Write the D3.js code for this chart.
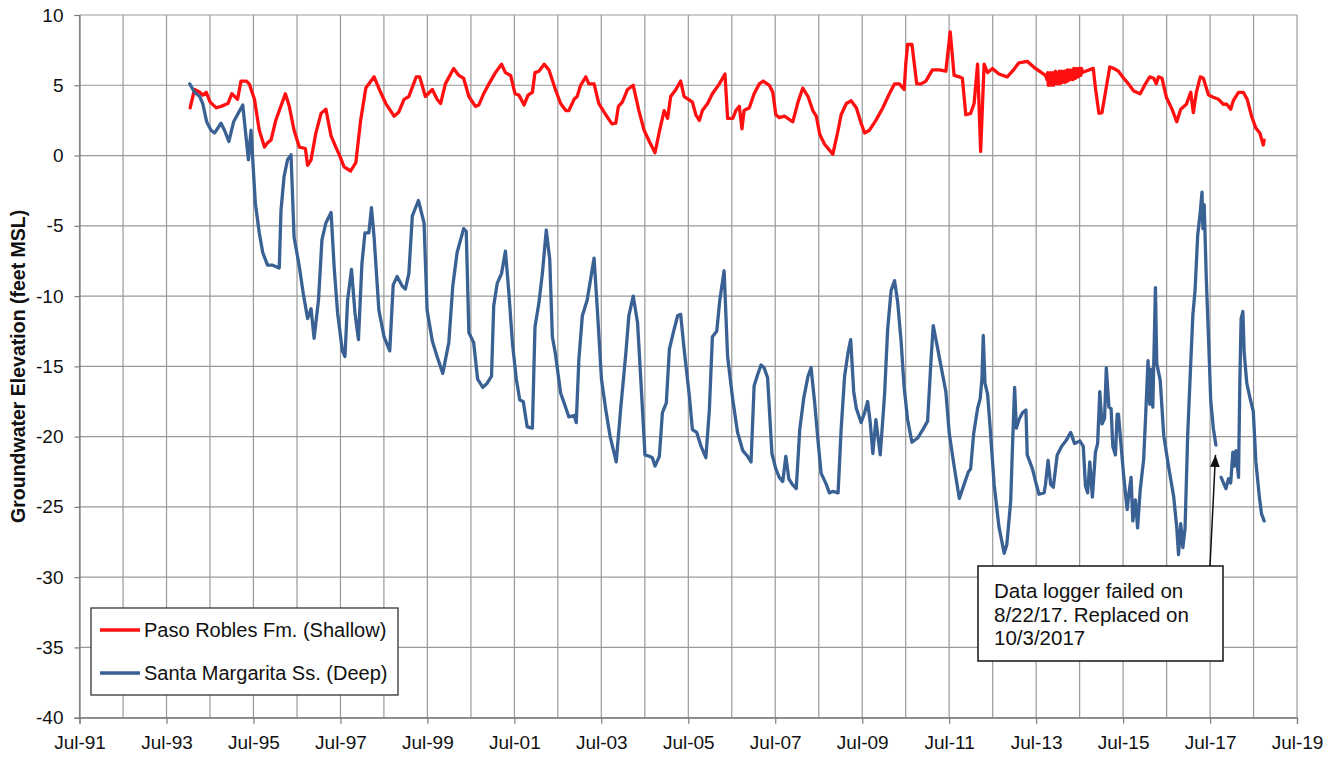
<!DOCTYPE html>
<html>
<head>
<meta charset="utf-8">
<script src="https://cdn.jsdelivr.net/npm/d3@7"></script>
<style>
  html, body { margin: 0; padding: 0; background: #fff; }
  svg { display: block; font-family: "Liberation Sans", Arial, sans-serif; }
</style>
</head>
<body>
<svg id="chart" width="1339" height="757"></svg>
<script>
// ---------------- DATA ----------------
const yTicks = [10, 5, 0, -5, -10, -15, -20, -25, -30, -35, -40];
const xTickLabels = ["Jul-91","Jul-93","Jul-95","Jul-97","Jul-99","Jul-01","Jul-03","Jul-05","Jul-07","Jul-09","Jul-11","Jul-13","Jul-15","Jul-17","Jul-19"];
const seriesNames = ["Paso Robles Fm. (Shallow)", "Santa Margarita Ss. (Deep)"];
const annotationLines = ["Data logger failed on", "8/22/17. Replaced on", "10/3/2017"];

// Paso Robles Fm. (Shallow) : [decimal year, feet MSL]
const shallow = [
[1994.04,3.4],[1994.14,4.7],[1994.26,4.5],[1994.33,4.3],[1994.41,4.5],[1994.50,3.8],[1994.64,3.4],[1994.75,3.5],
[1994.91,3.7],[1995.00,4.4],[1995.13,4.0],[1995.21,5.3],[1995.33,5.3],[1995.40,5.1],[1995.52,4.0],[1995.63,1.8],
[1995.75,0.6],[1995.82,0.9],[1995.90,1.1],[1996.01,2.5],[1996.23,4.4],[1996.32,3.5],[1996.43,1.8],[1996.55,0.6],
[1996.69,0.5],[1996.74,-0.7],[1996.82,-0.3],[1996.93,1.6],[1997.05,3.0],[1997.16,3.3],[1997.28,1.4],[1997.39,0.6],
[1997.47,0.05],[1997.58,-0.8],[1997.73,-1.1],[1997.85,-0.5],[1997.96,2.5],[1998.08,4.8],[1998.27,5.6],[1998.42,4.5],
[1998.54,3.7],[1998.73,2.8],[1998.84,3.1],[1998.96,4.0],[1999.07,4.2],[1999.24,5.6],[1999.32,5.6],[1999.45,4.2],
[1999.61,4.7],[1999.72,4.0],[1999.80,3.7],[1999.91,5.1],[2000.10,6.2],[2000.22,5.7],[2000.33,5.5],[2000.45,4.2],
[2000.60,3.5],[2000.68,3.6],[2000.79,4.4],[2000.91,5.1],[2001.06,5.9],[2001.20,6.5],[2001.29,5.9],[2001.41,5.7],
[2001.51,4.4],[2001.60,4.3],[2001.72,3.6],[2001.81,4.3],[2001.91,4.5],[2001.97,5.9],[2002.06,6.0],[2002.18,6.5],
[2002.29,6.1],[2002.44,4.7],[2002.56,3.7],[2002.68,3.2],[2002.75,3.2],[2002.87,4.0],[2002.94,4.2],[2003.02,5.0],
[2003.14,5.6],[2003.21,5.1],[2003.33,5.1],[2003.44,3.7],[2003.60,2.9],[2003.74,2.25],[2003.83,2.3],[2003.89,3.5],
[2003.98,3.8],[2004.10,4.7],[2004.23,5.0],[2004.36,3.2],[2004.48,1.8],[2004.60,1.0],[2004.73,0.2],[2004.83,1.7],
[2004.94,3.2],[2005.02,2.65],[2005.09,4.2],[2005.21,4.7],[2005.32,5.3],[2005.40,4.2],[2005.50,4.0],[2005.59,3.8],
[2005.67,2.9],[2005.75,2.5],[2005.82,3.2],[2005.94,3.7],[2006.05,4.4],[2006.21,5.1],[2006.34,5.8],[2006.40,2.65],
[2006.52,2.65],[2006.59,3.2],[2006.67,3.5],[2006.73,1.9],[2006.78,3.2],[2006.90,3.4],[2007.01,4.4],[2007.13,5.1],
[2007.22,5.3],[2007.36,5.0],[2007.44,4.5],[2007.51,2.9],[2007.59,2.7],[2007.71,2.8],[2007.90,2.4],[2008.02,3.8],
[2008.13,4.8],[2008.25,4.2],[2008.36,3.2],[2008.44,2.8],[2008.52,1.5],[2008.63,0.8],[2008.82,0.1],[2008.94,1.8],
[2009.01,2.9],[2009.13,3.7],[2009.24,3.9],[2009.36,3.4],[2009.47,2.3],[2009.55,1.6],[2009.66,1.8],[2009.81,2.5],
[2009.97,3.4],[2010.12,4.4],[2010.24,5.1],[2010.35,5.1],[2010.46,4.7],[2010.50,6.6],[2010.54,7.9],[2010.64,7.9],
[2010.75,5.1],[2010.85,5.1],[2010.96,5.3],[2011.11,6.1],[2011.27,6.1],[2011.42,6.0],[2011.52,8.8],[2011.61,5.7],
[2011.73,5.6],[2011.80,5.5],[2011.88,2.9],[2011.99,3.0],[2012.07,3.7],[2012.15,6.5],[2012.22,0.3],[2012.30,6.5],
[2012.38,5.9],[2012.49,6.2],[2012.64,5.8],[2012.83,5.6],[2012.95,6.0],[2013.10,6.6],[2013.29,6.7],[2013.48,6.2],
[2013.71,5.7],
[2013.745,5.4],[2013.76,5.9],[2013.775,5.0],[2013.79,5.8],[2013.805,5.1],[2013.82,5.9],[2013.835,5.0],[2013.85,5.7],
[2013.865,5.2],[2013.88,5.9],[2013.895,5.0],[2013.91,5.8],[2013.925,5.1],[2013.94,6.0],[2013.955,5.2],[2013.97,5.8],
[2013.985,5.1],[2014.00,5.9],[2014.015,5.2],[2014.03,6.0],[2014.045,5.1],[2014.06,5.8],[2014.075,5.3],[2014.09,6.0],
[2014.105,5.2],[2014.12,5.9],[2014.135,5.3],[2014.15,6.0],[2014.165,5.2],[2014.18,5.9],[2014.195,5.4],[2014.21,6.1],
[2014.225,5.3],[2014.24,6.0],[2014.255,5.4],[2014.27,6.1],[2014.285,5.4],[2014.30,6.0],[2014.315,5.5],[2014.33,6.1],
[2014.345,5.4],[2014.36,6.2],[2014.375,5.6],[2014.39,6.1],[2014.405,5.5],[2014.42,6.2],[2014.435,5.7],[2014.45,6.1],
[2014.465,5.6],[2014.48,6.2],[2014.495,5.8],[2014.51,6.2],[2014.525,5.7],[2014.54,6.2],[2014.56,5.9],
[2014.63,6.0],[2014.81,6.2],[2014.86,4.8],[2014.94,3.0],[2015.01,3.05],[2015.09,4.5],
[2015.19,6.3],[2015.28,6.2],[2015.39,6.0],[2015.51,5.5],[2015.62,5.1],[2015.74,4.6],[2015.89,4.4],[2016.01,5.1],
[2016.11,5.6],[2016.20,5.5],[2016.26,5.1],[2016.31,5.6],[2016.39,5.5],[2016.49,4.15],[2016.62,3.3],[2016.73,2.4],
[2016.82,3.3],[2016.95,3.65],[2017.05,4.5],[2017.11,3.05],[2017.18,4.5],[2017.27,5.6],[2017.34,5.5],[2017.46,4.3],
[2017.57,4.15],[2017.69,4.0],[2017.80,3.65],[2017.88,3.65],[2017.97,3.3],[2018.03,3.9],[2018.15,4.5],[2018.26,4.5],
[2018.35,4.0],[2018.45,2.8],[2018.55,1.95],[2018.64,1.6],[2018.72,0.75],[2018.74,1.1]
];

// Santa Margarita Ss. (Deep) : [decimal year, feet MSL]; null = data gap
const deep = [
[1994.03,5.1],[1994.14,4.5],[1994.26,4.2],[1994.33,3.7],[1994.42,2.4],[1994.52,1.8],[1994.60,1.6],[1994.75,2.3],
[1994.83,1.8],[1994.93,1.0],[1995.04,2.4],[1995.25,3.6],[1995.38,-0.3],[1995.44,1.8],[1995.54,-3.4],[1995.63,-5.5],
[1995.71,-6.9],[1995.82,-7.8],[1995.94,-7.8],[1996.09,-8.0],[1996.13,-3.9],[1996.20,-1.5],[1996.28,-0.3],[1996.36,0.05],
[1996.43,-5.8],[1996.55,-7.9],[1996.64,-9.8],[1996.74,-11.6],[1996.82,-10.9],[1996.89,-13.0],[1996.99,-10.3],[1997.07,-6.0],
[1997.16,-4.8],[1997.28,-4.05],[1997.35,-7.9],[1997.43,-11.2],[1997.54,-13.9],[1997.60,-14.3],[1997.66,-10.3],[1997.75,-8.1],
[1997.83,-11.2],[1997.91,-13.1],[1997.99,-7.7],[1998.06,-5.5],[1998.15,-5.5],[1998.21,-3.7],[1998.27,-5.8],[1998.38,-11.0],
[1998.50,-12.9],[1998.63,-13.9],[1998.71,-9.2],[1998.80,-8.6],[1998.92,-9.3],[1998.99,-9.5],[1999.07,-8.4],[1999.15,-4.3],
[1999.29,-3.2],[1999.42,-4.8],[1999.49,-11.0],[1999.61,-13.2],[1999.72,-14.3],[1999.85,-15.5],[1999.99,-13.3],[2000.08,-9.3],
[2000.18,-6.9],[2000.33,-5.2],[2000.39,-5.4],[2000.45,-12.6],[2000.56,-13.3],[2000.65,-15.9],[2000.77,-16.5],[2000.87,-16.2],
[2000.97,-15.7],[2001.02,-10.7],[2001.10,-9.1],[2001.20,-8.4],[2001.29,-6.8],[2001.37,-9.8],[2001.45,-13.3],[2001.54,-15.9],
[2001.62,-17.4],[2001.70,-17.5],[2001.79,-19.3],[2001.91,-19.4],[2001.97,-12.2],[2002.06,-10.5],[2002.14,-8.4],[2002.23,-5.3],
[2002.31,-7.4],[2002.37,-12.9],[2002.44,-14.1],[2002.56,-16.9],[2002.64,-17.6],[2002.75,-18.6],[2002.87,-18.5],[2002.92,-19.0],
[2002.98,-14.5],[2003.06,-11.4],[2003.17,-10.3],[2003.25,-8.8],[2003.33,-7.3],[2003.40,-10.7],[2003.50,-15.9],[2003.60,-18.1],
[2003.70,-20.0],[2003.84,-21.8],[2003.94,-18.1],[2004.06,-14.1],[2004.13,-11.4],[2004.23,-10.0],[2004.33,-11.9],[2004.40,-15.7],
[2004.50,-21.3],[2004.60,-21.4],[2004.67,-21.5],[2004.73,-22.1],[2004.83,-21.4],[2004.90,-18.3],[2004.99,-17.6],[2005.06,-13.8],
[2005.15,-12.6],[2005.25,-11.4],[2005.32,-11.3],[2005.40,-13.8],[2005.52,-17.1],[2005.59,-19.5],[2005.69,-19.7],[2005.79,-20.7],
[2005.90,-21.5],[2005.98,-18.1],[2006.05,-12.9],[2006.15,-12.5],[2006.22,-10.3],[2006.32,-8.2],[2006.40,-14.3],[2006.52,-17.4],
[2006.63,-19.7],[2006.75,-21.0],[2006.86,-21.4],[2006.94,-21.8],[2007.01,-16.4],[2007.09,-15.6],[2007.17,-14.9],[2007.24,-15.1],
[2007.32,-15.8],[2007.42,-21.2],[2007.51,-22.3],[2007.59,-22.9],[2007.67,-23.2],[2007.74,-21.4],[2007.81,-23.0],[2007.89,-23.4],
[2007.98,-23.7],[2008.06,-19.5],[2008.15,-17.3],[2008.25,-15.7],[2008.32,-15.1],[2008.40,-17.5],[2008.48,-20.3],[2008.55,-22.6],
[2008.67,-23.4],[2008.74,-24.0],[2008.82,-23.9],[2008.94,-24.0],[2009.01,-19.5],[2009.09,-15.7],[2009.17,-14.0],[2009.23,-13.1],
[2009.30,-16.8],[2009.36,-18.0],[2009.47,-19.0],[2009.55,-18.3],[2009.62,-17.5],[2009.68,-19.0],[2009.74,-21.2],[2009.81,-18.8],
[2009.91,-21.3],[2010.01,-17.0],[2010.08,-12.4],[2010.16,-9.6],[2010.24,-8.9],[2010.31,-10.4],[2010.39,-13.2],[2010.46,-16.5],
[2010.54,-18.8],[2010.64,-20.4],[2010.77,-20.1],[2010.89,-19.5],[2011.00,-18.9],[2011.08,-14.5],[2011.13,-12.1],[2011.23,-13.7],
[2011.34,-15.5],[2011.42,-16.8],[2011.50,-19.8],[2011.61,-22.1],[2011.73,-24.4],[2011.84,-23.4],[2011.94,-22.5],[2011.99,-22.3],
[2012.06,-19.8],[2012.15,-18.0],[2012.21,-17.3],[2012.25,-15.9],[2012.28,-12.8],[2012.32,-16.2],[2012.38,-17.0],[2012.43,-19.0],
[2012.53,-23.4],[2012.64,-26.4],[2012.76,-28.3],[2012.82,-27.7],[2012.91,-24.6],[2012.95,-20.8],[2013.00,-16.5],[2013.04,-19.4],
[2013.10,-18.8],[2013.18,-18.3],[2013.26,-18.1],[2013.29,-21.3],[2013.41,-22.3],[2013.50,-23.4],[2013.56,-24.1],[2013.68,-24.0],
[2013.71,-23.4],[2013.77,-21.7],[2013.83,-23.4],[2013.89,-23.6],[2013.98,-21.3],[2014.08,-20.7],[2014.18,-20.3],[2014.29,-19.7],
[2014.38,-20.5],[2014.50,-20.3],[2014.58,-20.7],[2014.63,-23.5],[2014.68,-24.0],[2014.73,-21.8],[2014.79,-24.3],[2014.86,-21.1],
[2014.91,-20.5],[2014.96,-16.8],[2015.01,-19.1],[2015.07,-18.7],[2015.11,-15.1],[2015.17,-17.9],[2015.22,-18.0],[2015.26,-20.7],
[2015.32,-21.3],[2015.36,-18.4],[2015.39,-18.4],[2015.43,-19.9],[2015.51,-22.8],[2015.59,-25.2],[2015.62,-24.3],[2015.68,-22.9],
[2015.72,-26.0],[2015.78,-24.5],[2015.83,-26.5],[2015.89,-23.8],[2015.97,-21.6],[2016.02,-18.2],[2016.07,-14.6],[2016.11,-17.7],
[2016.14,-15.2],[2016.18,-17.9],[2016.24,-9.4],[2016.27,-14.8],[2016.35,-16.0],[2016.43,-19.9],[2016.54,-22.1],[2016.66,-24.3],
[2016.73,-26.5],[2016.77,-28.4],[2016.82,-26.2],[2016.87,-27.9],[2016.92,-26.5],[2016.98,-19.9],[2017.05,-14.8],[2017.10,-11.3],
[2017.15,-9.6],[2017.21,-5.7],[2017.27,-4.0],[2017.31,-2.6],[2017.33,-5.2],[2017.36,-3.5],[2017.41,-8.9],[2017.46,-13.0],
[2017.51,-17.4],[2017.57,-19.4],[2017.63,-20.6],[2017.70,null],[2017.75,-22.9],[2017.86,-23.7],[2017.92,-23.0],[2017.97,-23.3],
[2018.02,-21.1],[2018.06,-22.1],[2018.09,-21.0],[2018.15,-22.9],[2018.18,-16.2],[2018.21,-11.6],[2018.25,-11.1],[2018.28,-14.0],
[2018.34,-16.2],[2018.41,-17.2],[2018.49,-18.2],[2018.55,-21.8],[2018.63,-24.3],[2018.68,-25.5],[2018.74,-26.0]
];
// annotation arrow tip (data coords: decimal year, feet MSL)
const arrowTip = [2017.62, -21.3];

// ---------------- CHART ----------------
const plot = { left: 79.5, right: 1297, top: 15, bottom: 717.7 };
const colors = { shallow: "#ff0f0f", deep: "#3a6194", grid: "#999999", axis: "#7a7a7a" };

function toDate(dy) {
  const yr = Math.floor(dy);
  const start = new Date(yr, 0, 1), end = new Date(yr + 1, 0, 1);
  return new Date(start.getTime() + (dy - yr) * (end - start));
}

const svg = d3.select("#chart");
const x = d3.scaleTime()
  .domain([new Date(1991, 6, 1), new Date(2019, 6, 1)])
  .range([plot.left, plot.right]);
const y = d3.scaleLinear().domain([-40, 10]).range([plot.bottom, plot.top]);

const julyAll = d3.range(1991, 2020).map(yr => new Date(yr, 6, 1));
const julyMajor = julyAll.filter(d => (d.getFullYear() - 1991) % 2 === 0);

// gridlines
const grid = svg.append("g");
grid.selectAll("line.v").data(julyAll).join("line")
  .attr("x1", d => x(d)).attr("x2", d => x(d))
  .attr("y1", plot.top).attr("y2", plot.bottom)
  .attr("stroke", colors.grid).attr("stroke-width", 1.2);
grid.selectAll("line.h").data(yTicks).join("line")
  .attr("x1", plot.left).attr("x2", plot.right)
  .attr("y1", d => y(d)).attr("y2", d => y(d))
  .attr("stroke", colors.grid).attr("stroke-width", 1.2);

// axes
const fmt = d3.timeFormat("%b-%y");
const xAxis = d3.axisBottom(x).tickValues(julyMajor).tickSize(6).tickPadding(12)
  .tickFormat((d, i) => xTickLabels[i] || fmt(d));
const gx = svg.append("g").attr("transform", `translate(0,${plot.bottom})`).call(xAxis);
gx.select(".domain").attr("stroke", colors.axis).attr("stroke-width", 1.2);
gx.selectAll(".tick line").attr("stroke", colors.axis).attr("stroke-width", 1.2);
gx.selectAll(".tick text").attr("font-size", 19).attr("fill", "#111")
  .attr("font-family", "'Liberation Sans', Arial, sans-serif");

const yAxis = d3.axisLeft(y).tickValues(yTicks).tickSize(5).tickPadding(11).tickFormat(d => String(d));
const gy = svg.append("g").attr("transform", `translate(${plot.left},0)`).call(yAxis);
gy.select(".domain").attr("stroke", colors.axis).attr("stroke-width", 1.2);
gy.selectAll(".tick line").attr("stroke", colors.axis).attr("stroke-width", 1.2);
gy.selectAll(".tick text").attr("font-size", 19).attr("fill", "#111")
  .attr("font-family", "'Liberation Sans', Arial, sans-serif");

// y-axis title
svg.append("text")
  .attr("transform", `translate(25,${(plot.top + plot.bottom) / 2}) rotate(-90)`)
  .attr("text-anchor", "middle")
  .attr("font-size", 19.5).attr("font-weight", "bold").attr("fill", "#111")
  .text("Groundwater Elevation (feet MSL)");

// series
const line = d3.line()
  .defined(d => d[1] !== null)
  .x(d => x(toDate(d[0])))
  .y(d => y(d[1]));

svg.append("path").datum(shallow)
  .attr("d", line).attr("fill", "none")
  .attr("stroke", colors.shallow).attr("stroke-width", 3.3)
  .attr("stroke-linejoin", "round").attr("stroke-linecap", "round");
svg.append("path").datum(deep)
  .attr("d", line).attr("fill", "none")
  .attr("stroke", colors.deep).attr("stroke-width", 3.3)
  .attr("stroke-linejoin", "round").attr("stroke-linecap", "round");

// legend
const lg = svg.append("g");
lg.append("rect").attr("x", 91).attr("y", 608).attr("width", 307).attr("height", 87)
  .attr("fill", "#fff").attr("stroke", "#333").attr("stroke-width", 1.3);
[colors.shallow, colors.deep].forEach((c, i) => {
  const cy = 630 + i * 43;
  lg.append("line").attr("x1", 100).attr("x2", 140).attr("y1", cy).attr("y2", cy)
    .attr("stroke", c).attr("stroke-width", 3.3);
  lg.append("text").attr("x", 144).attr("y", cy + 7)
    .attr("font-size", 20).attr("fill", "#111").text(seriesNames[i]);
});

// annotation box
const an = svg.append("g");
an.append("rect").attr("x", 978).attr("y", 566).attr("width", 245).attr("height", 95)
  .attr("fill", "#fff").attr("stroke", "#222").attr("stroke-width", 1.6);
annotationLines.forEach((t, i) => {
  an.append("text").attr("x", 994).attr("y", 598 + i * 23.5)
    .attr("font-size", 20.5).attr("fill", "#111").text(t);
});
svg.append("defs").append("marker")
  .attr("id", "ah").attr("viewBox", "0 0 10 10").attr("refX", 10).attr("refY", 5)
  .attr("markerWidth", 8).attr("markerHeight", 8).attr("orient", "auto-start-reverse")
  .append("path").attr("d", "M0,1 L10,5 L0,9 z").attr("fill", "#111");
an.append("line")
  .attr("x1", 1210).attr("y1", 566)
  .attr("x2", x(toDate(arrowTip[0]))).attr("y2", y(arrowTip[1]))
  .attr("stroke", "#111").attr("stroke-width", 1.5)
  .attr("marker-end", "url(#ah)");
</script>
</body>
</html>
